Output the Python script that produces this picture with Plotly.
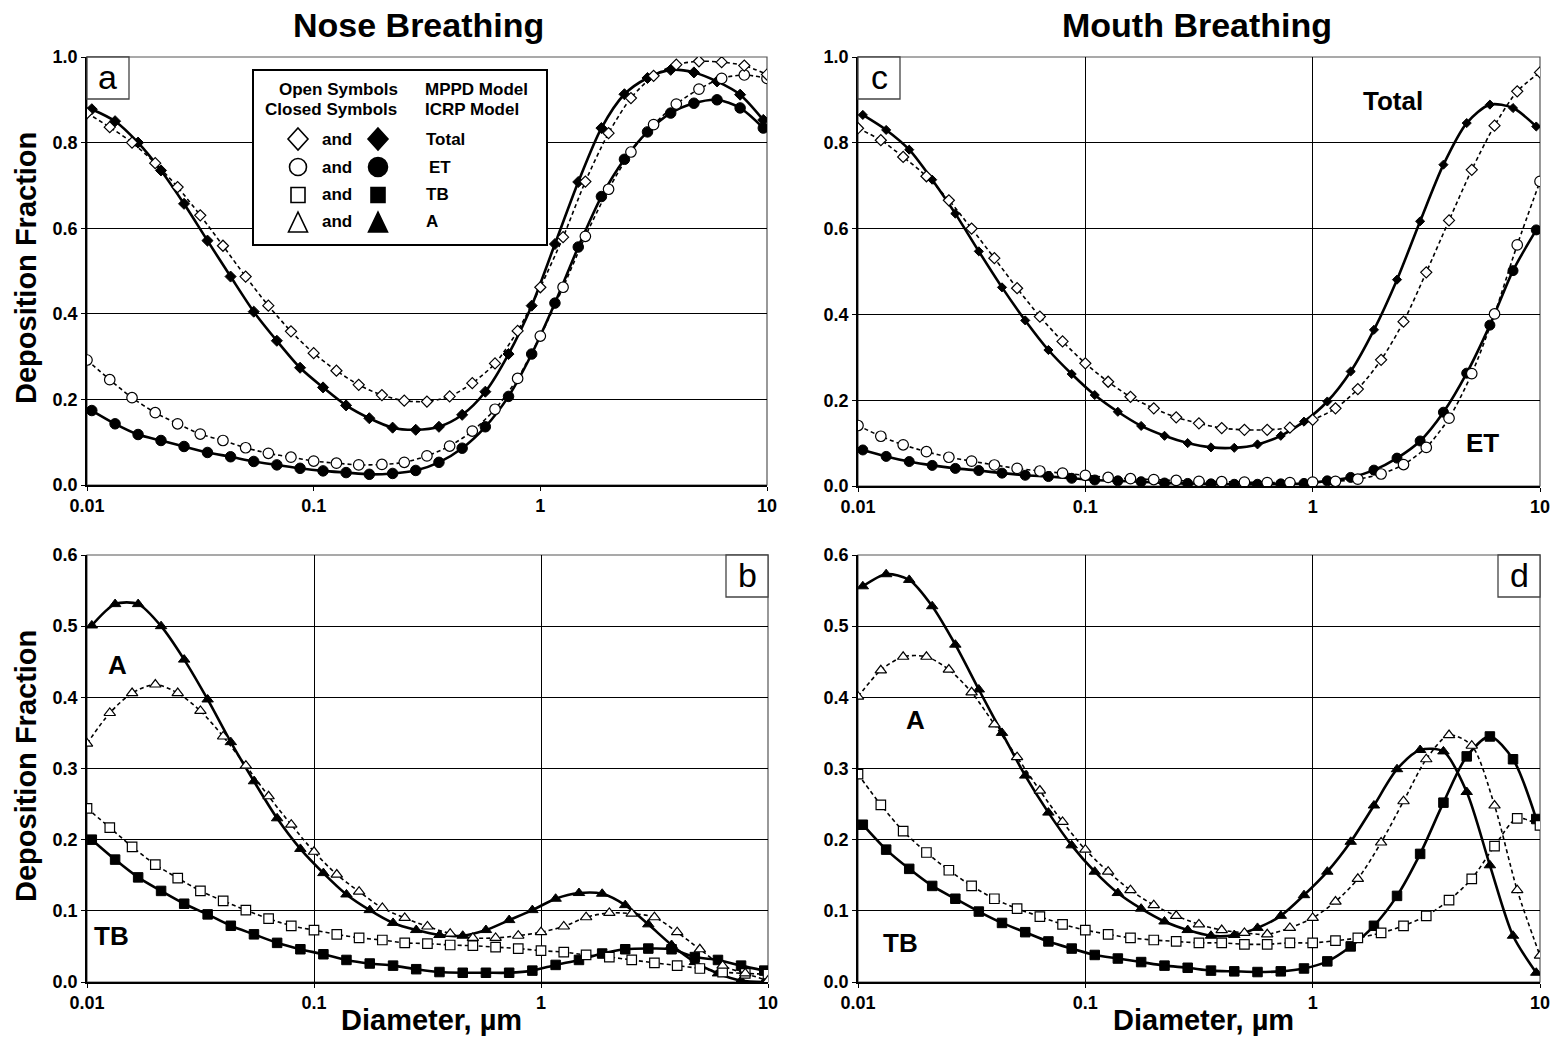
import plotly.graph_objects as go

W, H = 1557, 1045
FONT = "Liberation Sans, Arial, Helvetica, sans-serif"

# ---- particle diameters (µm) ----
d_mppd = [0.01, 0.0126, 0.0158, 0.02, 0.0251, 0.0316, 0.0398, 0.0501, 0.0631, 0.0794,
          0.1, 0.126, 0.158, 0.2, 0.251, 0.316, 0.398, 0.501, 0.631, 0.794,
          1.0, 1.26, 1.58, 2.0, 2.51, 3.16, 3.98, 5.01, 6.31, 7.94, 10.0]
d_icrp = [0.0105, 0.0133, 0.0168, 0.0212, 0.0268, 0.034, 0.043, 0.0544, 0.0688, 0.0871,
          0.110, 0.139, 0.176, 0.223, 0.282, 0.357, 0.452, 0.572, 0.724, 0.916,
          1.16, 1.47, 1.86, 2.35, 2.97, 3.76, 4.76, 6.02, 7.61, 9.63]

# ---- nose breathing ----
nose_total_mppd = [0.869, 0.836, 0.800, 0.752, 0.696, 0.630, 0.559, 0.487, 0.419, 0.359,
                   0.308, 0.267, 0.234, 0.210, 0.197, 0.195, 0.207, 0.238, 0.284, 0.360,
                   0.462, 0.579, 0.709, 0.822, 0.904, 0.956, 0.982, 0.990, 0.988, 0.980, 0.959]
nose_total_icrp = [0.878, 0.850, 0.800, 0.735, 0.657, 0.571, 0.487, 0.405, 0.337, 0.274,
                   0.228, 0.186, 0.156, 0.134, 0.129, 0.136, 0.164, 0.218, 0.306, 0.419,
                   0.563, 0.708, 0.834, 0.913, 0.951, 0.970, 0.964, 0.943, 0.912, 0.853]
nose_et_mppd = [0.292, 0.246, 0.204, 0.169, 0.143, 0.119, 0.104, 0.087, 0.074, 0.065,
                0.056, 0.051, 0.047, 0.048, 0.053, 0.068, 0.091, 0.126, 0.177, 0.249,
                0.348, 0.462, 0.581, 0.691, 0.778, 0.842, 0.890, 0.925, 0.950, 0.958, 0.950]
nose_et_icrp = [0.174, 0.143, 0.118, 0.104, 0.090, 0.076, 0.066, 0.055, 0.047, 0.039,
                0.033, 0.029, 0.025, 0.027, 0.034, 0.053, 0.086, 0.136, 0.207, 0.306,
                0.425, 0.556, 0.674, 0.761, 0.825, 0.869, 0.892, 0.900, 0.881, 0.834]
nose_a_mppd = [0.335, 0.378, 0.406, 0.418, 0.406, 0.381, 0.345, 0.304, 0.261, 0.221,
               0.183, 0.151, 0.127, 0.104, 0.090, 0.078, 0.068, 0.062, 0.062, 0.065,
               0.070, 0.078, 0.091, 0.097, 0.096, 0.091, 0.070, 0.046, 0.023, 0.012, 0.002]
nose_a_icrp = [0.501, 0.531, 0.531, 0.500, 0.453, 0.397, 0.337, 0.282, 0.230, 0.187,
               0.153, 0.123, 0.101, 0.083, 0.073, 0.066, 0.065, 0.073, 0.087, 0.101,
               0.117, 0.125, 0.124, 0.108, 0.081, 0.052, 0.028, 0.012, 0.002, 0.000]
nose_tb_mppd = [0.244, 0.217, 0.190, 0.165, 0.146, 0.128, 0.114, 0.101, 0.089, 0.079,
                0.073, 0.067, 0.062, 0.059, 0.055, 0.054, 0.052, 0.051, 0.049, 0.047,
                0.044, 0.042, 0.038, 0.035, 0.031, 0.027, 0.023, 0.019, 0.014, 0.012, 0.011]
nose_tb_icrp = [0.200, 0.172, 0.147, 0.128, 0.110, 0.095, 0.079, 0.067, 0.055, 0.046,
                0.039, 0.031, 0.026, 0.023, 0.018, 0.014, 0.013, 0.013, 0.013, 0.016,
                0.024, 0.031, 0.040, 0.046, 0.047, 0.046, 0.035, 0.031, 0.023, 0.016]

# ---- mouth breathing ----
mouth_total_mppd = [0.834, 0.806, 0.767, 0.722, 0.666, 0.600, 0.531, 0.461, 0.395, 0.337,
                    0.286, 0.243, 0.208, 0.181, 0.160, 0.146, 0.135, 0.131, 0.131, 0.136,
                    0.154, 0.181, 0.226, 0.294, 0.383, 0.498, 0.619, 0.737, 0.840, 0.920, 0.964]
mouth_total_icrp = [0.865, 0.830, 0.784, 0.714, 0.635, 0.547, 0.463, 0.386, 0.317, 0.261,
                    0.212, 0.173, 0.140, 0.117, 0.100, 0.090, 0.089, 0.097, 0.117, 0.150,
                    0.197, 0.267, 0.364, 0.481, 0.617, 0.749, 0.846, 0.889, 0.881, 0.838]
mouth_et_mppd = [0.141, 0.116, 0.096, 0.080, 0.067, 0.058, 0.049, 0.041, 0.035, 0.030,
                 0.025, 0.020, 0.017, 0.015, 0.013, 0.011, 0.010, 0.009, 0.008, 0.008,
                 0.009, 0.011, 0.016, 0.028, 0.050, 0.090, 0.158, 0.262, 0.401, 0.562, 0.710]
mouth_et_icrp = [0.084, 0.069, 0.057, 0.048, 0.041, 0.036, 0.030, 0.025, 0.022, 0.018,
                 0.014, 0.012, 0.010, 0.007, 0.006, 0.005, 0.004, 0.004, 0.005, 0.006,
                 0.012, 0.020, 0.037, 0.065, 0.105, 0.172, 0.263, 0.375, 0.502, 0.597]
mouth_a_mppd = [0.401, 0.438, 0.457, 0.457, 0.439, 0.407, 0.362, 0.316, 0.269, 0.225,
                0.186, 0.155, 0.129, 0.108, 0.093, 0.081, 0.073, 0.069, 0.067, 0.076,
                0.090, 0.113, 0.145, 0.196, 0.254, 0.313, 0.347, 0.332, 0.248, 0.129, 0.037]
mouth_a_icrp = [0.556, 0.573, 0.565, 0.528, 0.474, 0.411, 0.350, 0.290, 0.238, 0.192,
                0.155, 0.125, 0.103, 0.085, 0.073, 0.065, 0.066, 0.076, 0.093, 0.122,
                0.155, 0.197, 0.248, 0.299, 0.326, 0.324, 0.267, 0.164, 0.065, 0.013]
mouth_tb_mppd = [0.292, 0.249, 0.212, 0.182, 0.157, 0.135, 0.117, 0.103, 0.092, 0.081,
                 0.073, 0.067, 0.062, 0.059, 0.057, 0.055, 0.055, 0.053, 0.053, 0.055,
                 0.055, 0.058, 0.062, 0.069, 0.079, 0.093, 0.115, 0.145, 0.191, 0.230, 0.220]
mouth_tb_icrp = [0.221, 0.186, 0.159, 0.135, 0.117, 0.099, 0.083, 0.070, 0.057, 0.047,
                 0.038, 0.033, 0.028, 0.023, 0.020, 0.016, 0.015, 0.014, 0.015, 0.019,
                 0.029, 0.050, 0.079, 0.121, 0.180, 0.252, 0.317, 0.345, 0.313, 0.229]

x_tickvals = [0.01, 0.1, 1, 10]
x_ticktext = ["0.01", "0.1", "1", "10"]


def px(x):
    return x / W


def py(y):
    return 1 - y / H


# panel rectangles in pixels: (left, top, right, bottom)
panels = {
    "a": (87, 57, 767, 485),
    "b": (87, 555, 768, 982),
    "c": (858, 57, 1540, 486),
    "d": (858, 555, 1540, 982),
}
axis_ids = {"a": ("x", "y"), "b": ("x2", "y2"), "c": ("x3", "y3"), "d": ("x4", "y4")}

fig = go.Figure()


def add_series(panel, xs, ys, symbol, filled, size):
    xa, ya = axis_ids[panel]
    if filled:
        line = dict(color="black", width=2.6, shape="spline", smoothing=0.8)
        marker = dict(symbol=symbol, size=size, color="black",
                      line=dict(color="black", width=1))
    else:
        line = dict(color="black", width=1.6, dash="4px,3px", shape="spline", smoothing=0.8)
        marker = dict(symbol=symbol, size=size, color="white",
                      line=dict(color="black", width=1.2))
    fig.add_trace(go.Scatter(x=xs, y=ys, mode="lines+markers", line=line, marker=marker,
                             xaxis=xa, yaxis=ya, showlegend=False, hoverinfo="skip"))


# a: nose, Total and ET
add_series("a", d_icrp, nose_et_icrp, "circle", True, 10.5)
add_series("a", d_icrp, nose_total_icrp, "diamond", True, 8.5)
add_series("a", d_mppd, nose_et_mppd, "circle", False, 10.5)
add_series("a", d_mppd, nose_total_mppd, "diamond", False, 8.5)
# b: nose, TB and A
add_series("b", d_icrp, nose_tb_icrp, "square", True, 9.5)
add_series("b", d_icrp, nose_a_icrp, "triangle-up", True, 10)
add_series("b", d_mppd, nose_tb_mppd, "square", False, 9.5)
add_series("b", d_mppd, nose_a_mppd, "triangle-up", False, 10)
# c: mouth, Total and ET
add_series("c", d_icrp, mouth_et_icrp, "circle", True, 10)
add_series("c", d_icrp, mouth_total_icrp, "diamond", True, 7)
add_series("c", d_mppd, mouth_et_mppd, "circle", False, 10.5)
add_series("c", d_mppd, mouth_total_mppd, "diamond", False, 8.5)
# d: mouth, TB and A
add_series("d", d_icrp, mouth_tb_icrp, "square", True, 9.5)
add_series("d", d_icrp, mouth_a_icrp, "triangle-up", True, 10)
add_series("d", d_mppd, mouth_tb_mppd, "square", False, 9.5)
add_series("d", d_mppd, mouth_a_mppd, "triangle-up", False, 10)

tickfont = dict(family=FONT, size=18, color="black", weight="bold")

layout_axes = {}
for key, (l, t, r, b) in panels.items():
    xa, ya = axis_ids[key]
    xname = "xaxis" if xa == "x" else "xaxis" + xa[1:]
    yname = "yaxis" if ya == "y" else "yaxis" + ya[1:]
    top_val = 1.0 if key in ("a", "c") else 0.6
    dt = 0.2 if key in ("a", "c") else 0.1
    layout_axes[xname] = dict(
        type="log", range=[-2, 1], domain=[px(l), px(r)], anchor=ya,
        tickvals=x_tickvals, ticktext=x_ticktext, tickfont=tickfont,
        showgrid=(key != "a"), gridcolor="black", gridwidth=1,
        showline=True, linecolor="black", linewidth=1.5,
        ticks="outside", ticklen=4, tickcolor="black", tickwidth=1,
        zeroline=False, fixedrange=True, automargin=False,
    )
    layout_axes[yname] = dict(
        range=[0, top_val], domain=[py(b), py(t)], anchor=xa,
        tick0=0, dtick=dt, tickformat=".1f", tickfont=tickfont,
        showgrid=True, gridcolor="black", gridwidth=1,
        showline=True, linecolor="black", linewidth=1.5,
        ticks="outside", ticklen=4, tickcolor="black", tickwidth=1,
        zeroline=False, fixedrange=True, automargin=False,
    )

shapes = []
annotations = []

# plot-area frames
for key in panels:
    xa, ya = axis_ids[key]
    shapes.append(dict(type="rect", xref=xa + " domain", yref=ya + " domain",
                       x0=0, x1=1, y0=0, y1=1, line=dict(color="#555555", width=1.2),
                       layer="below"))


def text(x, y, s, size, bold=True, xanchor="center", angle=0):
    annotations.append(dict(
        x=px(x), y=py(y), xref="paper", yref="paper", showarrow=False,
        text=("<b>%s</b>" % s) if bold else s, textangle=angle,
        xanchor=xanchor, yanchor="middle",
        font=dict(family=FONT, size=size, color="black")))


# panel letters in small boxes
letter_boxes = {"a": (87, 57, 129, 99), "c": (858, 57, 900, 99),
                "b": (726, 555, 768, 597), "d": (1498, 555, 1540, 597)}
for letter, (l, t, r, b) in letter_boxes.items():
    shapes.append(dict(type="rect", xref="paper", yref="paper",
                       x0=px(l), x1=px(r), y0=py(b), y1=py(t),
                       line=dict(color="#444444", width=1.3), fillcolor="white",
                       layer="above"))
    text((l + r) / 2, (t + b) / 2 - 1, letter, 34, bold=False)

# column titles
text(418, 25, "Nose Breathing", 34)
text(1197, 25, "Mouth Breathing", 34)

# axis titles
text(26, 268, "Deposition Fraction", 29, angle=-90)
text(26, 766, "Deposition Fraction", 29, angle=-90)
text(431, 1020, "Diameter, µm", 29)
text(1203, 1020, "Diameter, µm", 29)

# curve labels
text(1393, 101, "Total", 26)
text(1482, 443, "ET", 26)
text(117, 665, "A", 26)
text(112, 936, "TB", 26)
text(915, 720, "A", 26)
text(900, 943, "TB", 26)

# key box in panel a
shapes.append(dict(type="rect", xref="paper", yref="paper",
                   x0=px(253), x1=px(547), y0=py(245), y1=py(70),
                   line=dict(color="black", width=2), fillcolor="white", layer="above"))
text(400, 89, "Open Symbols", 17, xanchor="right")
text(399, 109, "Closed Symbols", 17, xanchor="right")
text(423, 89, "MPPD Model", 17, xanchor="left")
text(423, 109, "ICRP Model", 17, xanchor="left")

key_rows = [("diamond", 139, "Total", 424), ("circle", 167, "ET", 427),
            ("square", 195, "TB", 424), ("triangle", 222, "A", 424)]


def glyph(kind, cx, cy, filled):
    fill = "black" if filled else "white"
    ln = dict(color="black", width=1.6)
    if kind == "circle":
        r = 9.5 if filled else 8.5
        shapes.append(dict(type="circle", xref="paper", yref="paper",
                           x0=px(cx - r), x1=px(cx + r), y0=py(cy + r), y1=py(cy - r),
                           line=ln, fillcolor=fill, layer="above"))
        return
    if kind == "square":
        hw, hh = 7, 7.5
        shapes.append(dict(type="rect", xref="paper", yref="paper",
                           x0=px(cx - hw), x1=px(cx + hw), y0=py(cy + hh), y1=py(cy - hh),
                           line=ln, fillcolor=fill, layer="above"))
        return
    if kind == "diamond":
        hw, hh = 10, 11
        pts = [(cx, cy - hh), (cx + hw, cy), (cx, cy + hh), (cx - hw, cy)]
    else:
        hw, hh = 9.5, 10
        pts = [(cx, cy - hh), (cx + hw, cy + hh), (cx - hw, cy + hh)]
    path = "M " + " L ".join("%.5f,%.5f" % (px(a), py(b)) for a, b in pts) + " Z"
    shapes.append(dict(type="path", xref="paper", yref="paper", path=path,
                       line=ln, fillcolor=fill, layer="above"))


for kind, y, label, lx in key_rows:
    glyph(kind, 298, y, False)
    text(337, y, "and", 17)
    glyph(kind, 378, y, True)
    text(lx, y, label, 17, xanchor="left")

fig.update_layout(
    width=W, height=H,
    margin=dict(l=0, r=0, t=0, b=0, pad=0, autoexpand=False),
    paper_bgcolor="white", plot_bgcolor="white",
    font=dict(family=FONT, color="black"),
    shapes=shapes, annotations=annotations,
    showlegend=False,
    **layout_axes,
)

# place the figure flush with the page corner
page_fix = ("document.body.style.margin='0';"
            "document.body.style.padding='0';"
            "document.body.style.overflow='hidden';")
fig.write_html("out.html", config={"displayModeBar": False}, post_script=page_fix)
